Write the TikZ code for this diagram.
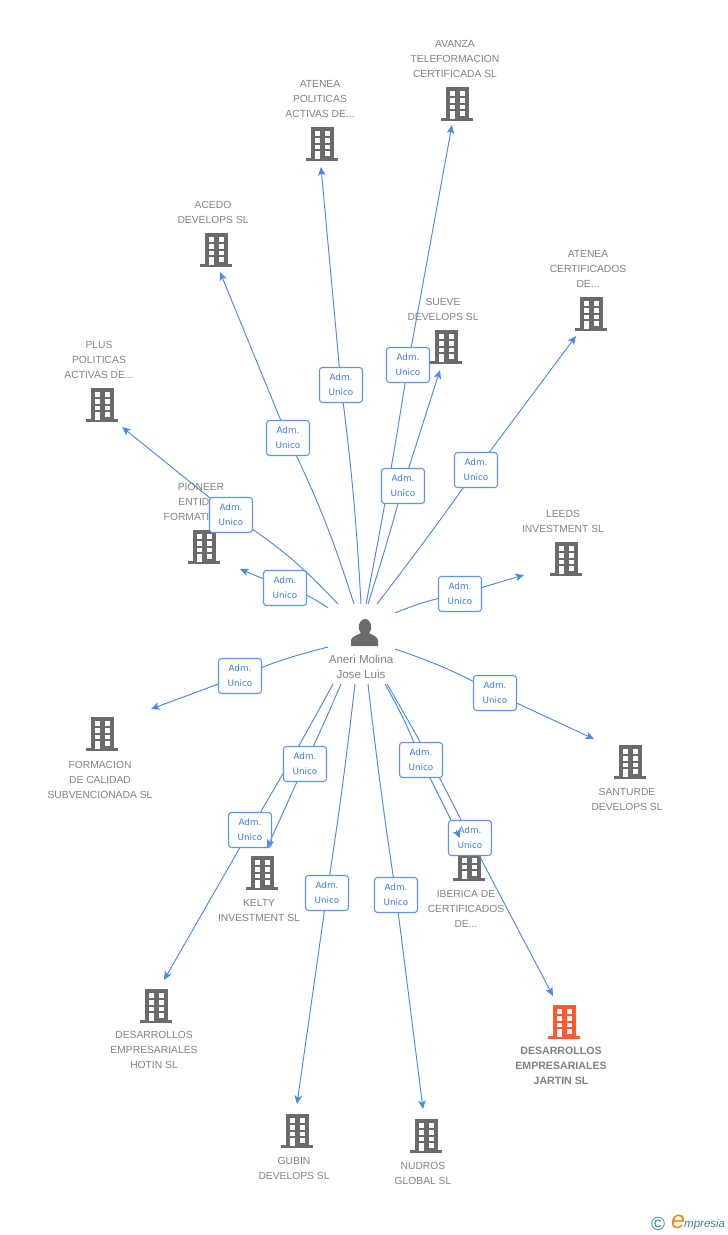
\documentclass[tikz,border=0pt]{standalone}
\usepackage{fontspec}
\setmainfont{Liberation Sans}
\newfontfamily\labelfont{DejaVu Sans}
\usetikzlibrary{arrows.meta,calc}
\definecolor{greytext}{HTML}{828282}
\definecolor{icongrey}{HTML}{6B6B6B}
\definecolor{linkblue}{HTML}{4A8BE8}
\definecolor{labelblue}{HTML}{3B7DDD}
\definecolor{focus}{HTML}{FF5A2D}
\definecolor{logoteal}{HTML}{3F7F95}
\definecolor{logoorange}{HTML}{F08A1D}
\tikzset{
  x=1pt,y=-1pt,
  company/.style={text=greytext,font=\fontsize{10.3}{15}\selectfont,align=center,inner sep=0pt},
  focuscompany/.style={company,font=\fontsize{10.6}{15}\selectfont\bfseries},
  person/.style={company,font=\fontsize{11.6}{15}\selectfont},
  conn/.style={draw=linkblue,line width=0.95pt},
  tip/.style={conn,-{Stealth[length=8.5pt,width=7.5pt,inset=2pt]}},
  adm/.style={draw=linkblue!90,line width=1.1pt,rounded corners=3pt,fill=white,minimum width=43pt,minimum height=35pt,inner sep=0pt,
    text=labelblue,font=\labelfont\fontsize{8.8}{15}\selectfont,align=center},
  pics/bldg/.style={code={
    \fill[#1] (-11.5,-34) rectangle (11.5,-1);
    \fill[#1] (-16,-3) rectangle (16,0);
    \foreach \cx in {-7,3}{\foreach \cy in {-30,-23,-16.5}{\fill[white] (\cx,\cy) rectangle ++(5,4.5);}}
    \fill[white] (-7,-10) rectangle (-2,-2.5);
    \fill[white] (3,-10) rectangle (8,-5.5);
  }}
}
% name, start, bend option, label centre, end
\newcommand{\link}[5]{%
  \coordinate (s#1) at #2;
  \coordinate (l#1) at #4;
  \coordinate (t#1) at #5;
  \draw[conn] (s#1) to[#3] (l#1);
  \draw[tip] (l#1) -- (t#1);
}
\newcommand{\admbox}[1]{\node[adm] (b#1) at (l#1) {Adm.\\Unico};}
\begin{document}
\begin{tikzpicture}
\useasboundingbox (0,0) rectangle (728,1235);
\fill[white] (0,0) rectangle (728,1235);

% companies
\pic at (457,121) {bldg=icongrey};
\pic at (322,161) {bldg=icongrey};
\pic at (216,267) {bldg=icongrey};
\pic at (591,331) {bldg=icongrey};
\pic at (446,364) {bldg=icongrey};
\pic at (102,422) {bldg=icongrey};
\pic at (204,564) {bldg=icongrey};
\pic at (566,576) {bldg=icongrey};
\pic at (102,751) {bldg=icongrey};
\pic at (630,779) {bldg=icongrey};
\pic at (262,890) {bldg=icongrey};
\pic at (469,881) {bldg=icongrey};
\pic at (156,1023) {bldg=icongrey};
\pic at (564,1039) {bldg=focus};
\pic at (297,1148) {bldg=icongrey};
\pic at (426,1153) {bldg=icongrey};

\node[company] (avanza) at (455,59) {AVANZA\\TELEFORMACION\\CERTIFICADA SL};
\node[company] (ateneapol) at (320,99) {ATENEA\\POLITICAS\\ACTIVAS DE...};
\node[company] (acedo) at (213,212) {ACEDO\\DEVELOPS SL};
\node[company] (ateneacert) at (588,269) {ATENEA\\CERTIFICADOS\\DE...};
\node[company] (sueve) at (443,309) {SUEVE\\DEVELOPS SL};
\node[company] (plus) at (99,360) {PLUS\\POLITICAS\\ACTIVAS DE...};
\node[company] (pioneer) at (201,486.5) {PIONEER};
\node[company,align=right,anchor=east] (pioneerb) at (209.5,509) {ENTID\\FORMATI};
\node[company] (leeds) at (563,521) {LEEDS\\INVESTMENT SL};
\node[company] (formacion) at (100,780) {FORMACION\\DE CALIDAD\\SUBVENCIONADA SL};
\node[company] (santurde) at (627,799) {SANTURDE\\DEVELOPS SL};
\node[company] (kelty) at (259,910) {KELTY\\INVESTMENT SL};
\node[company] (iberica) at (466,909) {IBERICA DE\\CERTIFICADOS\\DE...};
\node[company] (hotin) at (154,1050) {DESARROLLOS\\EMPRESARIALES\\HOTIN SL};
\node[focuscompany] (jartin) at (561,1066) {DESARROLLOS\\EMPRESARIALES\\JARTIN SL};
\node[company] (gubin) at (294,1168) {GUBIN\\DEVELOPS SL};
\node[company] (nudros) at (423,1173) {NUDROS\\GLOBAL SL};

% person
\fill[icongrey] (365,627) ellipse (6.2 and 8);
\fill[icongrey] (351,646) -- (351,640) .. controls (352,636) and (358,635) .. (361,633) -- (369,633) .. controls (372,635) and (377,636) .. (378,640) -- (378,646) -- cycle;
\node[person] (hub) at (361,667) {Aneri Molina\\Jose Luis};

% connectors
\link{a}{(354,604)}{bend right=4}{(288,438)}{(220,272)}
\link{b}{(361,604)}{bend right=2}{(341,385)}{(321,167)}
\link{c}{(366,604)}{bend right=1}{(408,365)}{(452,125)}
\link{d}{(368,604)}{bend right=1}{(403,486)}{(440,370)}
\link{e}{(377,604)}{bend right=1}{(476,470)}{(576,336)}
\link{f}{(338,604)}{bend right=7}{(231,515)}{(122,427)}
\link{g}{(328,608)}{bend right=10}{(285,588)}{(240,569)}
\link{h}{(395,613)}{bend left=6}{(460,594)}{(524,575)}
\link{i}{(328,647)}{bend right=4}{(240,676)}{(151,709)}
\link{j}{(395,649)}{bend left=5}{(495,693)}{(594,739)}
\link{k}{(341,684)}{bend left=1}{(305,764)}{(267,848)}
\link{m}{(333,684)}{bend left=1}{(250,830)}{(164,980)}
\link{n}{(355,684)}{bend left=1}{(327,893)}{(297,1104)}
\link{o}{(368,684)}{bend right=1}{(396,895)}{(423,1109)}
\link{p}{(385,684)}{bend left=4}{(421,760)}{(460,838)}
\link{q}{(387,684)}{bend left=2}{(470,838)}{(553,996)}

% relation labels
\admbox{a}
\admbox{b}
\admbox{c}
\admbox{d}
\admbox{e}
\admbox{f}
\admbox{g}
\admbox{h}
\admbox{i}
\admbox{j}
\admbox{k}
\admbox{m}
\admbox{n}
\admbox{o}
\admbox{p}
\admbox{q}

% arrowheads that lie over a label
\draw[tip] ($(lk)!0.9!(tk)$) -- (tk);
\draw[tip] ($(lp)!0.9!(tp)$) -- (tp);

% logo
\node[inner sep=0pt,text=logoteal,font=\fontsize{19}{19}\selectfont] (copy) at (658,1224) {©};
\node[inner sep=0pt,text=logoorange,font=\fontsize{25}{25}\selectfont\itshape] (logoe) at (678,1222) {e};
\node[inner sep=0pt,text=logoteal,font=\fontsize{11.5}{12}\selectfont\itshape,anchor=west] (logor) at (684,1225) {mpresia};
\end{tikzpicture}
\end{document}
